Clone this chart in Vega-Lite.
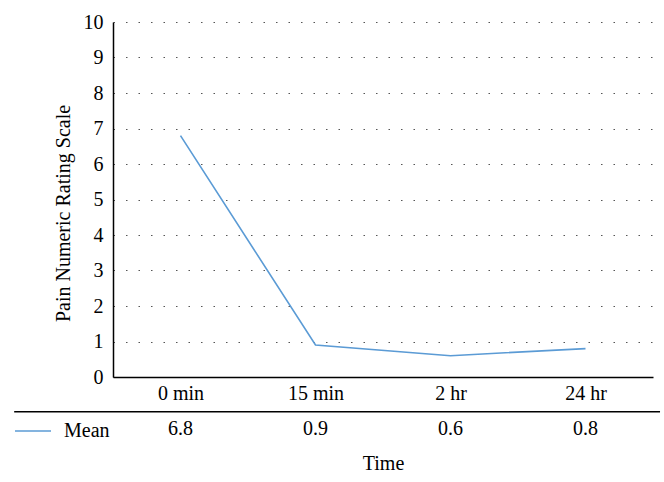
{
  "$schema": "https://vega.github.io/schema/vega-lite/v6.json",
  "width": 540,
  "height": 355,
  "autosize": {"type": "none"},
  "padding": {"left": 113, "top": 22, "right": 11, "bottom": 105},
  "background": "white",
  "config": {
    "view": {"stroke": null},
    "font": "Liberation Serif",
    "axisY": {
      "tickCount": 10, "values": [0, 1, 2, 3, 4, 5, 6, 7, 8, 9, 10],
      "grid": true, "gridDash": [1.5, 11], "gridColor": "#555555", "gridWidth": 1.2,
      "domainColor": "black", "domainWidth": 1.5, "ticks": false,
      "labelFontSize": 20, "labelColor": "black", "labelPadding": 10, "labelOverlap": false,
      "titleFontSize": 20, "titleFontWeight": "normal", "titleColor": "black",
      "titlePadding": 10, "titleY": 191
    }
  },
  "datasets": {
    "pain": [
      {"time": "0 min", "mean": 6.8, "series": "Mean"},
      {"time": "15 min", "mean": 0.9, "series": "Mean"},
      {"time": "2 hr", "mean": 0.6, "series": "Mean"},
      {"time": "24 hr", "mean": 0.8, "series": "Mean"}
    ]
  },
  "layer": [
    {
      "data": {"name": "pain"},
      "layer": [
        {
          "mark": {"type": "line", "strokeWidth": 1.6},
          "encoding": {
            "x": {
              "field": "time", "type": "nominal",
              "sort": ["0 min", "15 min", "2 hr", "24 hr"],
              "axis": {
                "title": "Time", "labelAngle": 0, "ticks": false, "grid": false,
                "domainColor": "black", "domainWidth": 1.5,
                "labelFontSize": 20, "labelColor": "black", "labelPadding": 6,
                "titleFontSize": 20, "titleFontWeight": "normal", "titleColor": "black", "titlePadding": 50
              }
            },
            "y": {
              "field": "mean", "type": "quantitative",
              "scale": {"domain": [0, 10], "nice": false},
              "axis": {"title": "Pain Numeric Rating Scale"}
            },
            "color": {
              "field": "series", "type": "nominal",
              "scale": {"range": ["#5b9bd5"]},
              "legend": {
                "title": null, "orient": "none", "legendX": -99, "legendY": 390,
                "symbolSize": 1296, "symbolStrokeWidth": 1.6, "symbolType": "stroke",
                "labelFontSize": 20, "labelColor": "black", "labelOffset": 12, "padding": 0
              }
            }
          }
        },
        {
          "mark": {"type": "text", "fontSize": 20, "baseline": "middle", "color": "black"},
          "encoding": {
            "x": {"field": "time", "type": "nominal", "sort": ["0 min", "15 min", "2 hr", "24 hr"]},
            "y": {"datum": -1.46, "type": "quantitative", "scale": {"domain": [0, 10], "nice": false}},
            "text": {"field": "mean", "type": "quantitative", "format": ".1f"}
          }
        }
      ]
    },
    {
      "data": {"values": [{}]},
      "mark": {"type": "rule", "color": "black", "strokeWidth": 1.5},
      "encoding": {
        "x": {"datum": -0.183, "type": "quantitative", "scale": {"domain": [0, 1]}, "axis": null},
        "x2": {"datum": 1.013},
        "y": {"datum": -0.98, "type": "quantitative", "scale": {"domain": [0, 10], "nice": false}}
      }
    }
  ],
  "resolve": {"scale": {"x": "independent"}}
}
